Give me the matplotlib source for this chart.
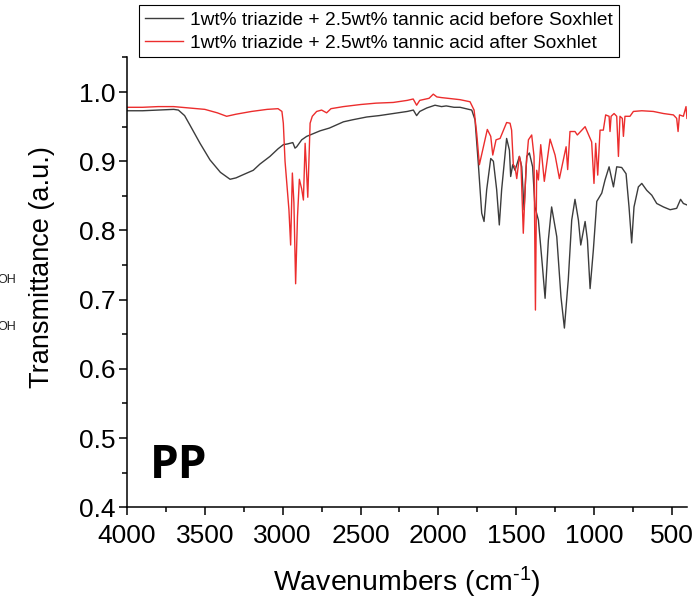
import matplotlib
matplotlib.use('Agg')
import matplotlib.pyplot as plt
from matplotlib.ticker import MultipleLocator

# FTIR spectra (wavenumber, transmittance)
wn_before = [4000, 3900, 3800, 3700, 3670, 3630, 3595, 3531, 3467, 3400, 3338, 3300,
             3250, 3189, 3146, 3082, 3030, 2996, 2970, 2953, 2935, 2921, 2910, 2878,
             2846, 2835, 2760, 2700, 2610, 2550, 2460, 2380, 2290, 2200, 2161, 2140,
             2120, 2075, 2022, 1980, 1950, 1900, 1861, 1786, 1765, 1744, 1722, 1707,
             1690, 1664, 1647, 1626, 1609, 1594, 1562, 1544, 1536, 1523, 1508, 1480,
             1465, 1450, 1433, 1416, 1395, 1380, 1358, 1332, 1315, 1294, 1273, 1240,
             1213, 1191, 1166, 1144, 1123, 1101, 1086, 1058, 1043, 1026, 1005, 983,
             951, 930, 904, 876, 855, 823, 795, 776, 759, 744, 716, 694, 662, 630,
             598, 555, 512, 470, 445, 427, 405]
t_before = [0.973, 0.973, 0.974, 0.975, 0.974, 0.966, 0.952, 0.926, 0.902, 0.884, 0.874, 0.876,
            0.881, 0.887, 0.896, 0.907, 0.918, 0.924, 0.925, 0.926, 0.927, 0.919, 0.921, 0.931,
            0.936, 0.937, 0.944, 0.948, 0.957, 0.960, 0.964, 0.966, 0.969, 0.972, 0.974, 0.966,
            0.972, 0.977, 0.981, 0.979, 0.980, 0.978, 0.978, 0.974, 0.960, 0.897, 0.825, 0.813,
            0.859, 0.904, 0.900, 0.859, 0.808, 0.859, 0.933, 0.916, 0.878, 0.895, 0.887, 0.907,
            0.892, 0.830, 0.907, 0.912, 0.892, 0.834, 0.815, 0.748, 0.702, 0.786, 0.834, 0.791,
            0.704, 0.659, 0.729, 0.815, 0.845, 0.815, 0.779, 0.813, 0.786, 0.716, 0.772, 0.842,
            0.854, 0.873, 0.892, 0.863, 0.892, 0.891, 0.882, 0.834, 0.782, 0.834, 0.863, 0.868,
            0.858, 0.851, 0.839, 0.834, 0.830, 0.832, 0.845, 0.839, 0.837]

wn_after = [4000, 3900, 3800, 3700, 3600, 3500, 3420, 3360, 3300, 3200, 3100, 3030,
            3005, 2996, 2985, 2960, 2949, 2938, 2928, 2917, 2905, 2893, 2878, 2867,
            2856, 2850, 2839, 2824, 2810, 2782, 2750, 2718, 2690, 2610, 2500, 2400,
            2290, 2200, 2162, 2140, 2120, 2060, 2033, 2010, 1980, 1940, 1900, 1861,
            1797, 1771, 1754, 1737, 1711, 1686, 1664, 1651, 1630, 1604, 1562, 1540,
            1530, 1519, 1508, 1497, 1480, 1470, 1455, 1437, 1422, 1401, 1386, 1377,
            1369, 1358, 1343, 1320, 1283, 1251, 1223, 1180, 1170, 1155, 1123, 1108,
            1058, 1016, 1001, 990, 977, 962, 941, 926, 904, 898, 891, 872, 855, 844,
            834, 819, 812, 802, 770, 748, 694, 620, 555, 491, 470, 461, 452, 427,
            410, 404]
t_after = [0.978, 0.978, 0.979, 0.979, 0.977, 0.975, 0.970, 0.965, 0.968, 0.972, 0.975, 0.976,
           0.972, 0.955, 0.900, 0.830, 0.779, 0.883, 0.840, 0.723, 0.820, 0.874, 0.860, 0.844,
           0.926, 0.900, 0.848, 0.955, 0.965, 0.972, 0.974, 0.970, 0.976, 0.979, 0.982, 0.984,
           0.985, 0.988, 0.990, 0.981, 0.988, 0.991, 0.997, 0.993, 0.992, 0.991, 0.990, 0.989,
           0.986, 0.974, 0.940, 0.895, 0.921, 0.946, 0.936, 0.909, 0.931, 0.933, 0.956, 0.955,
           0.945, 0.895, 0.892, 0.875, 0.907, 0.897, 0.796, 0.892, 0.931, 0.938, 0.907, 0.685,
           0.887, 0.873, 0.924, 0.871, 0.932, 0.909, 0.875, 0.921, 0.888, 0.943, 0.943, 0.938,
           0.950, 0.928, 0.868, 0.926, 0.880, 0.945, 0.945, 0.967, 0.965, 0.943, 0.965, 0.969,
           0.965, 0.907, 0.965, 0.962, 0.936, 0.965, 0.965, 0.972, 0.973, 0.972, 0.969, 0.967,
           0.962, 0.943, 0.967, 0.965, 0.979, 0.962]

labels = ['1wt% triazide + 2.5wt% tannic acid before Soxhlet',
          '1wt% triazide + 2.5wt% tannic acid after Soxhlet']

plt.rcParams['font.family'] = ['Liberation Sans', 'DejaVu Sans']
plt.rcParams['mathtext.fontset'] = 'custom'
plt.rcParams['mathtext.rm'] = 'Liberation Sans'
plt.rcParams['mathtext.it'] = 'Liberation Sans:italic'

fig = plt.figure(figsize=(6.92, 6.03), dpi=100)
ax = fig.add_axes((0.1835, 0.1587, 0.8092, 0.746))

ax.plot(wn_before, t_before, color='#3c3c3c', lw=1.0, label=labels[0])
ax.plot(wn_after, t_after, color='#ec2d2d', lw=1.0, label=labels[1])

ax.set_xlim(4000, 404)
ax.set_ylim(0.4, 1.05)
ax.xaxis.set_major_locator(MultipleLocator(500))
ax.xaxis.set_minor_locator(MultipleLocator(250))
ax.yaxis.set_major_locator(MultipleLocator(0.1))
ax.yaxis.set_minor_locator(MultipleLocator(0.05))
ax.yaxis.set_major_formatter(matplotlib.ticker.FormatStrFormatter('%.1f'))

for side in ['top', 'right']:
    ax.spines[side].set_visible(False)
for side in ['left', 'bottom']:
    ax.spines[side].set_linewidth(1.1)

ax.tick_params(axis='both', which='major', direction='out', length=6, width=1.1,
               labelsize=19)
ax.tick_params(axis='both', which='minor', direction='out', length=3.5, width=1.1)
ax.tick_params(axis='x', which='major', pad=6)
ax.tick_params(axis='y', which='major', pad=2)

ax.set_xlabel(r'Wavenumbers (cm$^{\text{-1}}$)', fontsize=20.5, labelpad=12)
ax.set_ylabel('Transmittance (a.u.)', fontsize=19.5)
ax.yaxis.set_label_coords(-0.128, 0.533)

leg = ax.legend(loc='lower center', bbox_to_anchor=(0.45, 1.0), borderaxespad=0,
                fontsize=13.8, frameon=True, fancybox=False, framealpha=1,
                edgecolor='black', handlelength=2.0, handletextpad=0.35,
                labelspacing=0.3, borderpad=0.3)
leg.get_frame().set_linewidth(0.8)

ax.text(0.041, 0.065, 'PP', transform=ax.transAxes, fontsize=33,
        fontweight='bold', family='Open Sans', va='baseline', ha='left')

# stray fragments at the left edge of the source image
fig.text(-0.004, 1 - 283 / 603, 'OH', fontsize=9, color='#222222')
fig.text(-0.004, 1 - 330 / 603, 'OH', fontsize=9, color='#222222')

plt.savefig('out.png', dpi=100)
